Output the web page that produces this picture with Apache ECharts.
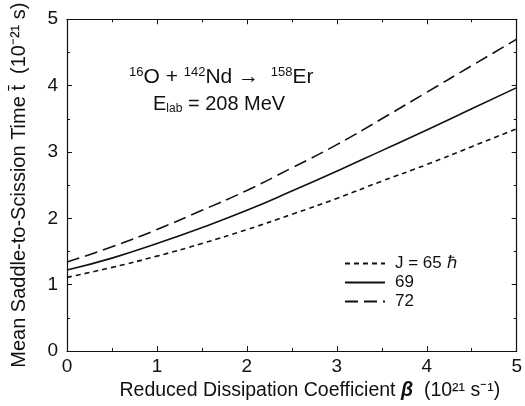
<!DOCTYPE html>
<html>
  <head>
    <meta charset="utf-8">
    <title>Saddle-to-Scission Time</title>
    <script type="text/javascript" src="https://cdn.jsdelivr.net/npm/echarts@6/dist/echarts.min.js"></script>
    <style>
      html, body { margin: 0; padding: 0; background: #fff; }
    </style>
  </head>
  <body>
    <div id="main" style="width: 525px;height:406px;"></div>

    <script type="text/javascript">
    // beta values (10^21 s^-1)
    var beta = [0, 0.5, 1, 1.5, 2, 2.5, 3, 3.5, 4, 4.5, 5];
    // mean saddle-to-scission time (10^-21 s) for each J
    var j65 = [1.11, 1.26, 1.43, 1.62, 1.83, 2.06, 2.30, 2.56, 2.81, 3.08, 3.35];
    var j69 = [1.22, 1.40, 1.62, 1.86, 2.12, 2.41, 2.71, 3.02, 3.33, 3.65, 3.97];
    var j72 = [1.34, 1.57, 1.83, 2.12, 2.42, 2.76, 3.11, 3.50, 3.90, 4.30, 4.70];
    var names = ['J = 65 \u210F', '69', '72'];

    var font = "'Liberation Sans', Arial, sans-serif";

    function pairs(ys) {
      return beta.map(function (b, i) { return [b, ys[i]]; });
    }

    var dom = document.getElementById("main");
    var myChart = echarts.init(dom);

    var axisCommon = {
      type: 'value',
      min: 0,
      max: 5,
      interval: 1,
      axisLine: { show: true, onZero: false, lineStyle: { color: '#111', width: 1.2 } },
      axisTick: { show: true, inside: true, length: 5, lineStyle: { color: '#111' } },
      minorTick: { show: true, splitNumber: 2, length: 3, lineStyle: { color: '#111' } },
      splitLine: { show: false }
    };

    var option = {
      animation: false,
      backgroundColor: '#fff',
      textStyle: { fontFamily: font },
      grid: { left: 67, right: 3, top: 18, bottom: 54 },
      legend: {
        show: true,
        orient: 'vertical',
        left: 339,
        top: 250,
        itemWidth: 40,
        itemHeight: 10,
        itemGap: 2,
        itemStyle: { opacity: 0 },
        textStyle: { fontFamily: font, fontSize: 17, color: '#111', padding: [0, 0, 0, 5] },
        data: names
      },
      xAxis: [
        Object.assign({}, axisCommon, {
          position: 'bottom',
          name: 'Reduced Dissipation Coefficient {b|\u03B2}  (10\u00B2\u00B9 s\u207B\u00B9)',
          nameLocation: 'middle',
          nameGap: 30,
          nameTextStyle: {
            fontFamily: font, fontSize: 19.5, color: '#111',
            padding: [0, 0, 0, 36],
            rich: { b: { fontFamily: font, fontSize: 19.5, fontWeight: 'bold', fontStyle: 'italic', color: '#111' } }
          },
          axisLabel: { fontFamily: font, fontSize: 19, color: '#111', margin: 6 }
        }),
        Object.assign({}, axisCommon, {
          position: 'top',
          axisLabel: { show: false }
        })
      ],
      yAxis: [
        Object.assign({}, axisCommon, {
          position: 'left',
          name: 'Mean Saddle-to-Scission Time t\u0304  (10\u207B\u00B2\u00B9 s)',
          nameLocation: 'middle',
          nameGap: 38,
          nameTextStyle: { fontFamily: font, fontSize: 20, color: '#111' },
          axisLabel: { fontFamily: font, fontSize: 19, color: '#111', margin: 9 }
        }),
        Object.assign({}, axisCommon, {
          position: 'right',
          axisLabel: { show: false }
        })
      ],
      graphic: [
        {
          type: 'text',
          left: 129,
          top: 66,
          style: {
            text: '{p|16}O + {p|142}Nd \u2192  {p|158}Er',
            font: '21px ' + font,
            fill: '#111',
            rich: {
              p: { fontFamily: font, fontSize: 13, padding: [0, 0, 9, 0], fill: '#111' }
            }
          }
        },
        {
          type: 'text',
          left: 153,
          top: 94,
          style: {
            text: 'E{s|lab} = 208 MeV',
            font: '20px ' + font,
            fill: '#111',
            rich: {
              s: { fontFamily: font, fontSize: 12, padding: [9, 0, 0, 0], fill: '#111' }
            }
          }
        }
      ],
      series: [
        {
          name: names[0],
          type: 'line',
          data: pairs(j65),
          smooth: true,
          symbol: 'none',
          lineStyle: { color: '#111', width: 1.6, type: [5, 4] },
          itemStyle: { color: '#111' }
        },
        {
          name: names[1],
          type: 'line',
          data: pairs(j69),
          smooth: true,
          symbol: 'none',
          lineStyle: { color: '#111', width: 1.6, type: 'solid' },
          itemStyle: { color: '#111' }
        },
        {
          name: names[2],
          type: 'line',
          data: pairs(j72),
          smooth: true,
          symbol: 'none',
          lineStyle: { color: '#111', width: 1.6, type: [13, 6] },
          itemStyle: { color: '#111' }
        }
      ]
    };

    myChart.setOption(option, true);
    </script>
  </body>
</html>
